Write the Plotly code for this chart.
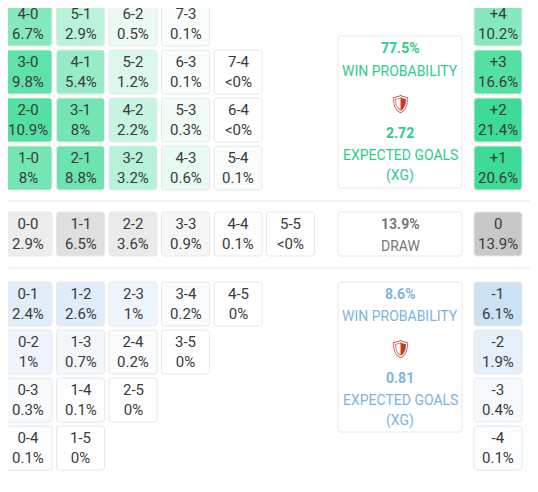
import plotly.graph_objects as go

# home win cells (rows top->bottom), label and probability
home_rows = [
    [("4-0", "6.7%"), ("5-1", "2.9%"), ("6-2", "0.5%"), ("7-3", "0.1%")],
    [("3-0", "9.8%"), ("4-1", "5.4%"), ("5-2", "1.2%"), ("6-3", "0.1%"), ("7-4", "<0%")],
    [("2-0", "10.9%"), ("3-1", "8%"), ("4-2", "2.2%"), ("5-3", "0.3%"), ("6-4", "<0%")],
    [("1-0", "8%"), ("2-1", "8.8%"), ("3-2", "3.2%"), ("4-3", "0.6%"), ("5-4", "0.1%")],
]
draw_row = [("0-0", "2.9%"), ("1-1", "6.5%"), ("2-2", "3.6%"), ("3-3", "0.9%"), ("4-4", "0.1%"), ("5-5", "<0%")]
away_rows = [
    [("0-1", "2.4%"), ("1-2", "2.6%"), ("2-3", "1%"), ("3-4", "0.2%"), ("4-5", "0%")],
    [("0-2", "1%"), ("1-3", "0.7%"), ("2-4", "0.2%"), ("3-5", "0%")],
    [("0-3", "0.3%"), ("1-4", "0.1%"), ("2-5", "0%")],
    [("0-4", "0.1%"), ("1-5", "0%")],
]
home_margin = [("+4", "10.2%"), ("+3", "16.6%"), ("+2", "21.4%"), ("+1", "20.6%")]
draw_margin = ("0", "13.9%")
away_margin = [("-1", "6.1%"), ("-2", "1.9%"), ("-3", "0.4%"), ("-4", "0.1%")]

home_win, home_xg = "77.5%", "2.72"
draw_prob = "13.9%"
away_win, away_xg = "8.6%", "0.81"

GREEN = (60, 220, 150)
BLUE = (205, 225, 245)
GRAY = (200, 200, 200)
HOME_TXT = "#2ecc8a"
AWAY_TXT = "#7db4e0"

col_x = [4, 56.5, 109, 161.5, 214, 266.5]
right_x = 474
cw, ch = 48, 44
home_y = [2, 50, 98, 146]
draw_y = 212
away_y = [282, 330, 378, 426]


def pval(s):
    return float(s.replace("<", "").replace("%", ""))


def mix(base, p, scale):
    t = min(1.0, (p / scale) ** 0.7) if p > 0 else 0
    r, g, b = [round(255 + (c - 255) * t) for c in base]
    return f"rgb({r},{g},{b})"


def rrect(x0, y0, x1, y1, r=3):
    return (f"M{x0+r},{y0} L{x1-r},{y0} Q{x1},{y0} {x1},{y0+r} L{x1},{y1-r} Q{x1},{y1} {x1-r},{y1} "
            f"L{x0+r},{y1} Q{x0},{y1} {x0},{y1-r} L{x0},{y0+r} Q{x0},{y0} {x0+r},{y0} Z")


fig = go.Figure()
shapes, annos = [], []
FONT = "Roboto, sans-serif"


def cell(x, y, top, bot, fill, w=cw, h=ch):
    shapes.append(dict(type="path", path=rrect(x, y, x + w, y + h), fillcolor=fill,
                       line=dict(color="#e8e8e8", width=1), layer="below"))
    annos.append(dict(x=x + w / 2, y=y + h / 2, text=f"{top}<br>{bot}", showarrow=False,
                      font=dict(family=FONT, size=15, color="#3a3a3a")))


for ry, row in zip(home_y, home_rows):
    for cx, (lab, pr) in zip(col_x, row):
        cell(cx, ry, lab, pr, mix(GREEN, pval(pr), 13))
for cx, (lab, pr) in zip(col_x, draw_row):
    cell(cx, draw_y, lab, pr, mix(GRAY, pval(pr), 14))
for ry, row in zip(away_y, away_rows):
    for cx, (lab, pr) in zip(col_x, row):
        cell(cx, ry, lab, pr, mix(BLUE, pval(pr), 5))
for ry, (lab, pr) in zip(home_y, home_margin):
    cell(right_x, ry, lab, pr, mix(GREEN, pval(pr), 20))
cell(right_x, draw_y, draw_margin[0], draw_margin[1], mix(GRAY, pval(draw_margin[1]), 14))
for ry, (lab, pr) in zip(away_y, away_margin):
    cell(right_x, ry, lab, pr, mix(BLUE, pval(pr), 5))

# summary boxes
for y0, y1 in [(36, 188), (212, 256), (282, 432)]:
    shapes.append(dict(type="path", path=rrect(338, y0, 462, y1), fillcolor="white",
                       line=dict(color="#e8e8e8", width=1), layer="below"))


def txt(y, s, color, size=14, bold=False):
    annos.append(dict(x=400, y=y, text=f"<b>{s}</b>" if bold else s, showarrow=False,
                      font=dict(family=FONT, size=size, color=color)))


txt(48, home_win, HOME_TXT, bold=True)
txt(71, "WIN PROBABILITY", HOME_TXT)
txt(103, "🛡", "#c0392b", size=18)
txt(133, home_xg, HOME_TXT, bold=True)
txt(155, "EXPECTED GOALS", HOME_TXT)
txt(175, "(XG)", HOME_TXT)
txt(224, draw_prob, "#777", bold=True)
txt(246, "DRAW", "#777")
txt(294, away_win, AWAY_TXT, bold=True)
txt(316, "WIN PROBABILITY", AWAY_TXT)
txt(348, "🛡", "#c0392b", size=18)
txt(378, away_xg, AWAY_TXT, bold=True)
txt(400, "EXPECTED GOALS", AWAY_TXT)
txt(420, "(XG)", AWAY_TXT)

for y in [201, 268]:
    shapes.append(dict(type="line", x0=-10, x1=560, y0=y, y1=y, line=dict(color="#e8e8e8", width=1)))

# page body has an 8px margin, so shift the axes to keep reference pixel positions
fig.add_trace(go.Scatter(x=[8, 546], y=[8, 500], mode="markers", marker=dict(opacity=0), hoverinfo="skip"))
fig.update_layout(width=538, height=492, margin=dict(l=0, r=0, t=0, b=0),
                  plot_bgcolor="white", paper_bgcolor="white", showlegend=False,
                  shapes=shapes, annotations=annos)
fig.update_xaxes(range=[8, 546], visible=False, fixedrange=True)
fig.update_yaxes(range=[500, 8], visible=False, fixedrange=True)
fig.write_html("out.html")
